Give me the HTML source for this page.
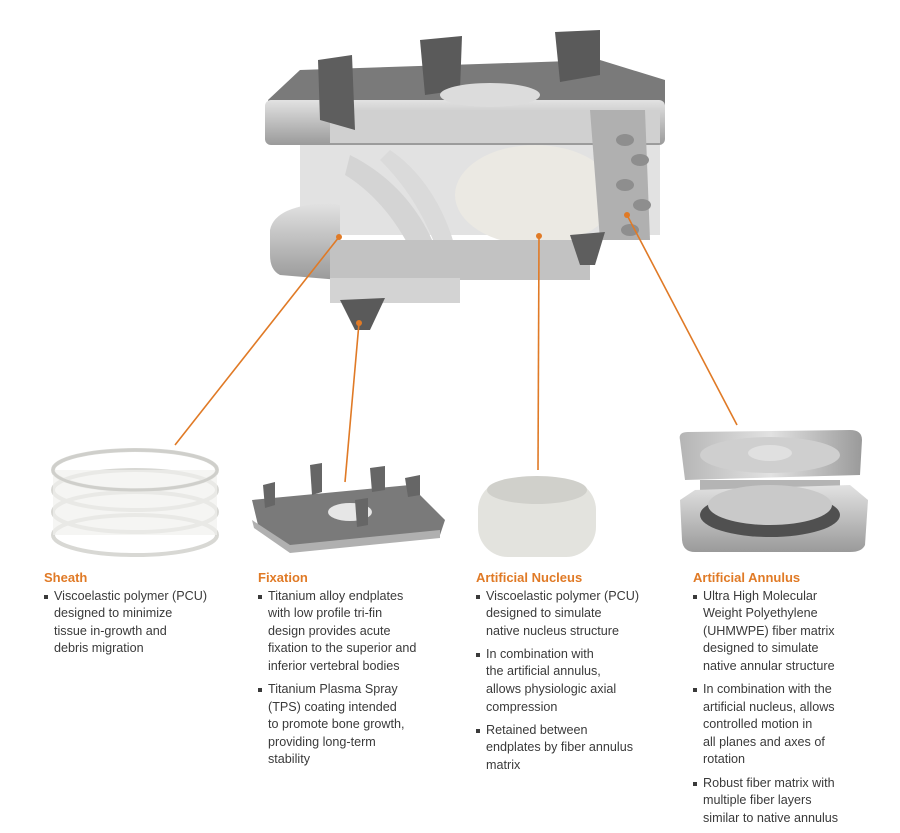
<!DOCTYPE html>
<html><head><meta charset="utf-8"><style>
html,body{margin:0;padding:0;background:#fff}
body{width:900px;height:833px;position:relative;overflow:hidden;font-family:"Liberation Sans",sans-serif}
.col{position:absolute;top:569px;font-size:12.6px;line-height:17.6px;color:#3a3a3a;white-space:nowrap}
.col h3{margin:0 0 1px 0;font-size:13px;color:#e07a26;font-weight:bold}
.col ul{margin:0;padding:0;list-style:none}
.col li{position:relative;padding-left:10px;margin-bottom:5.5px}
.col li:before{content:"";position:absolute;left:0;top:7px;width:4px;height:4px;background:#3a3a3a}
</style></head><body>
<svg width="900" height="833" style="position:absolute;left:0;top:0">
<defs>
<linearGradient id="metal" x1="0" y1="0" x2="0" y2="1"><stop offset="0" stop-color="#e2e2e2"/><stop offset="1" stop-color="#9a9a9a"/></linearGradient>
<linearGradient id="metal2" x1="0" y1="0" x2="1" y2="0"><stop offset="0" stop-color="#b5b5b5"/><stop offset=".5" stop-color="#e2e2e2"/><stop offset="1" stop-color="#9a9a9a"/></linearGradient>
</defs>
<!-- main device -->
<path d="M268 100 L300 70 L600 60 L665 80 L665 130 L330 150 L270 140 Z" fill="#7a7a7a"/>
<rect x="265" y="100" width="400" height="45" rx="6" fill="url(#metal)"/>
<rect x="330" y="110" width="330" height="33" fill="#d0d0d0"/>
<path d="M318 60 L352 55 L355 130 L320 120 Z" fill="#5e5e5e"/>
<path d="M420 40 L462 36 L460 90 L425 95 Z" fill="#5a5a5a"/>
<path d="M555 32 L600 30 L600 75 L560 82 Z" fill="#5a5a5a"/>
<ellipse cx="490" cy="95" rx="50" ry="12" fill="#dcdcdc"/>
<rect x="300" y="145" width="360" height="90" fill="#e2e2e2"/>
<ellipse cx="535" cy="195" rx="80" ry="50" fill="#ebe9e3"/>
<path d="M350 155 C380 170 420 200 440 260 L420 270 C400 220 370 190 345 175Z" fill="#d4d4d4"/>
<path d="M390 150 C420 170 450 210 460 270 L445 275 C430 220 405 185 380 160Z" fill="#dadada"/>
<path d="M590 110 L645 110 L650 240 L600 240 Z" fill="#b0b0b0"/>
<g fill="#8e8e8e"><ellipse cx="625" cy="140" rx="9" ry="6"/><ellipse cx="640" cy="160" rx="9" ry="6"/><ellipse cx="625" cy="185" rx="9" ry="6"/><ellipse cx="642" cy="205" rx="9" ry="6"/><ellipse cx="630" cy="230" rx="9" ry="6"/></g>
<path d="M270 230 Q275 205 330 203 L340 205 L340 280 L280 275 Q270 270 270 255Z" fill="url(#metal)"/>
<rect x="330" y="240" width="260" height="40" fill="#c2c2c2"/>
<rect x="330" y="278" width="130" height="25" fill="#d3d3d3"/>
<path d="M340 300 L385 298 L370 330 L355 330 Z" fill="#5a5a5a"/>
<path d="M570 235 L605 232 L595 265 L580 265Z" fill="#5e5e5e"/>
<!-- sheath -->
<g fill="none" stroke="#d8d8d4" stroke-width="4">
<ellipse cx="135" cy="470" rx="82" ry="20"/><ellipse cx="135" cy="490" rx="82" ry="20"/><ellipse cx="135" cy="512" rx="82" ry="20"/><ellipse cx="135" cy="535" rx="82" ry="20"/>
</g>
<rect x="53" y="470" width="164" height="65" fill="#f1f1ee" opacity=".7"/>
<ellipse cx="135" cy="470" rx="82" ry="20" fill="none" stroke="#cfcfcb" stroke-width="3"/>
<!-- fixation -->
<path d="M252 500 L410 485 L445 520 L440 535 L290 550 L258 525Z" fill="#7a7a7a"/>
<path d="M252 520 L290 545 L440 530 L440 538 L290 553 L254 528Z" fill="#b0b0b0"/>
<ellipse cx="350" cy="512" rx="22" ry="9" fill="#e6e6e6"/>
<path d="M263 485 L275 482 L275 505 L265 508Z" fill="#666"/>
<path d="M310 465 L322 463 L322 492 L312 495Z" fill="#666"/>
<path d="M370 468 L385 466 L385 490 L372 492Z" fill="#666"/>
<path d="M405 478 L420 475 L420 495 L408 497Z" fill="#666"/>
<path d="M355 500 L368 498 L368 525 L357 527Z" fill="#666"/>
<!-- nucleus -->
<rect x="478" y="480" width="118" height="77" rx="30" fill="#e3e3de"/>
<ellipse cx="537" cy="490" rx="50" ry="14" fill="#d0d0cb"/>
<!-- annulus -->
<path d="M680 440 Q678 432 688 432 L850 430 Q862 430 862 440 L860 475 L685 480Z" fill="url(#metal2)"/>
<ellipse cx="770" cy="455" rx="70" ry="18" fill="#cfcfcf"/>
<ellipse cx="770" cy="453" rx="22" ry="8" fill="#e0e0e0"/>
<rect x="700" y="480" width="140" height="50" fill="#b4b4b4"/>
<path d="M680 500 L695 490 L850 485 L868 500 L865 545 Q862 552 850 552 L695 552 Q683 552 682 540Z" fill="url(#metal)"/>
<ellipse cx="770" cy="515" rx="70" ry="22" fill="#505050"/>
<ellipse cx="770" cy="505" rx="62" ry="20" fill="#c9c9c9"/>
<!-- leader lines -->
<g stroke="#e07a26" stroke-width="1.6" fill="#e07a26">
<line x1="339" y1="237" x2="175" y2="445"/>
<line x1="359" y1="323" x2="345" y2="482"/>
<line x1="539" y1="236" x2="538" y2="470"/>
<line x1="627" y1="215" x2="737" y2="425"/>
<circle cx="339" cy="237" r="3" stroke="none"/>
<circle cx="359" cy="323" r="3" stroke="none"/>
<circle cx="539" cy="236" r="3" stroke="none"/>
<circle cx="627" cy="215" r="3" stroke="none"/>
</g>
</svg>

<div class="col" style="left:44px">
<h3>Sheath</h3>
<ul><li>Viscoelastic polymer (PCU)<br>designed to minimize<br>tissue in-growth and<br>debris migration</li></ul>
</div>
<div class="col" style="left:258px">
<h3>Fixation</h3>
<ul><li>Titanium alloy endplates<br>with low profile tri-fin<br>design provides acute<br>fixation to the superior and<br>inferior vertebral bodies</li>
<li>Titanium Plasma Spray<br>(TPS) coating intended<br>to promote bone growth,<br>providing long-term<br>stability</li></ul>
</div>
<div class="col" style="left:476px">
<h3>Artificial Nucleus</h3>
<ul><li>Viscoelastic polymer (PCU)<br>designed to simulate<br>native nucleus structure</li>
<li>In combination with<br>the artificial annulus,<br>allows physiologic axial<br>compression</li>
<li>Retained between<br>endplates by fiber annulus<br>matrix</li></ul>
</div>
<div class="col" style="left:693px">
<h3>Artificial Annulus</h3>
<ul><li>Ultra High Molecular<br>Weight Polyethylene<br>(UHMWPE) fiber matrix<br>designed to simulate<br>native annular structure</li>
<li>In combination with the<br>artificial nucleus, allows<br>controlled motion in<br>all planes and axes of<br>rotation</li>
<li>Robust fiber matrix with<br>multiple fiber layers<br>similar to native annulus</li></ul>
</div>
</body></html>
